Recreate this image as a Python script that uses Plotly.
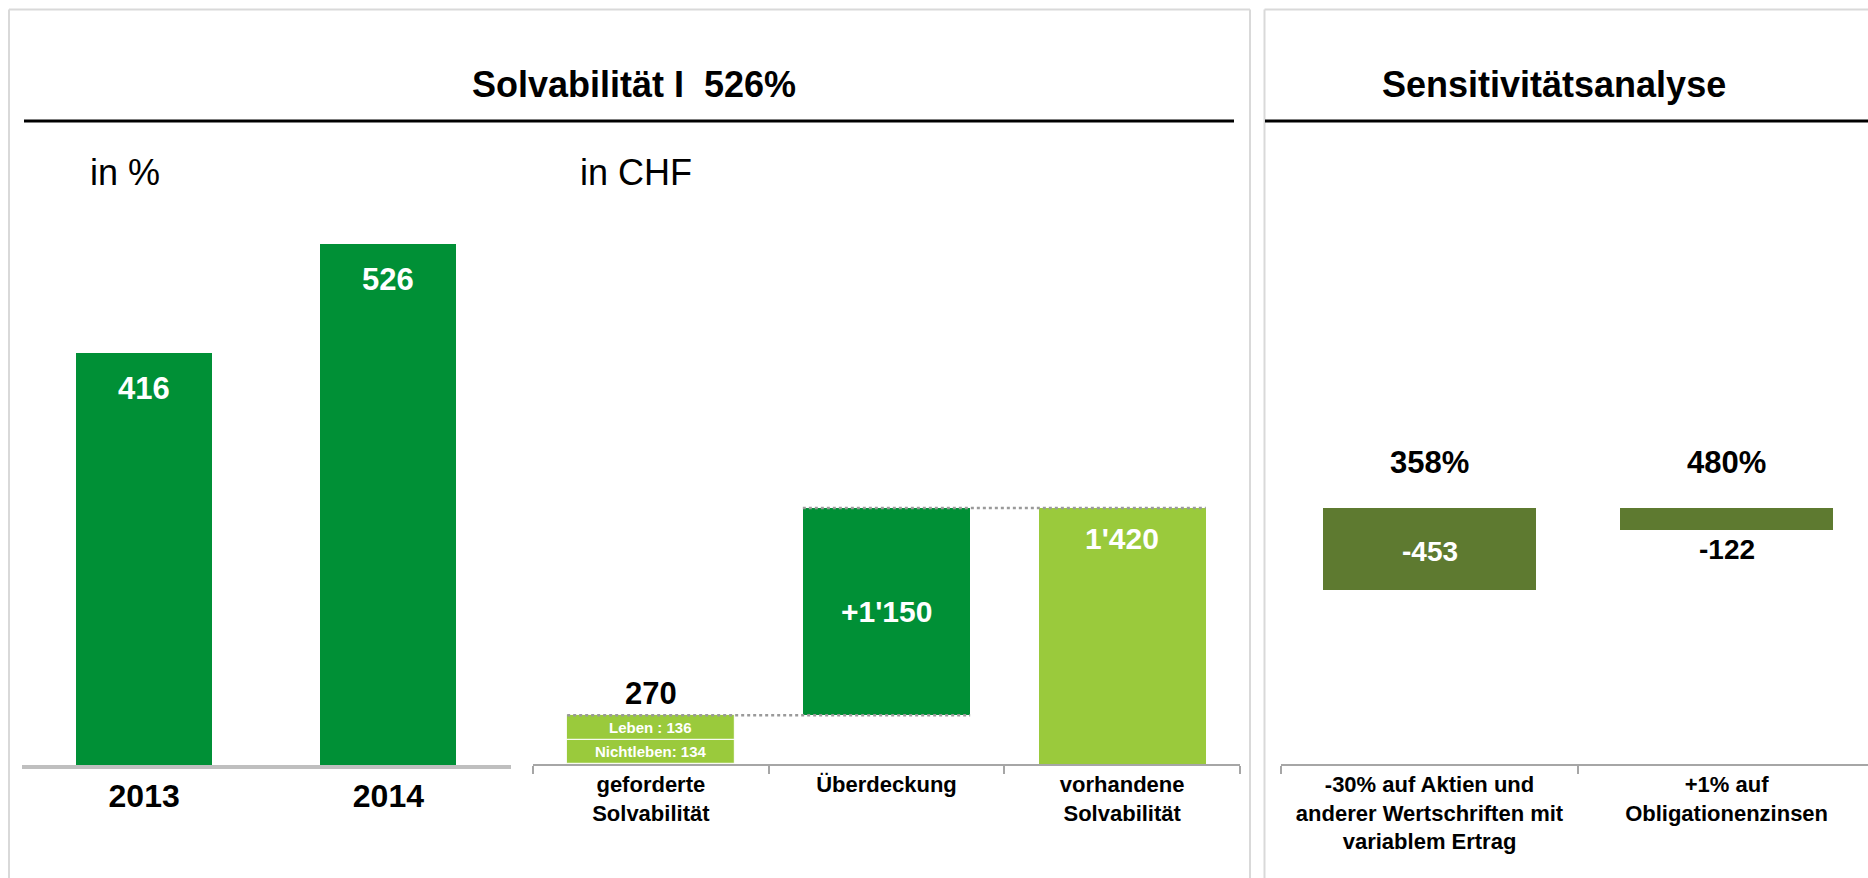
import plotly.graph_objects as go

# ---------------- data ----------------
years = ["2013", "2014"]
solvency_pct = [416, 526]

wf_categories = ["geforderte<br>Solvabilität", "Überdeckung", "vorhandene<br>Solvabilität"]
req_nichtleben = 134
req_leben = 136
surplus = 1150
available = 1420

sens_categories = ["-30% auf Aktien und<br>anderer Wertschriften mit<br>variablem Ertrag",
                   "+1% auf<br>Obligationenzinsen"]
sens_delta = [-453, -122]
sens_ratio = [358, 480]

# ---------------- style ----------------
W, H = 1868, 878
FONT = "Liberation Sans, Arial, sans-serif"
DARK_GREEN = "#009036"
LIGHT_GREEN = "#9ACA3C"
OLIVE = "#5E7A30"
AXIS_GRAY = "#A6A6A6"
BORDER_GRAY = "#D9D9D9"


def px(x):
    return x / W


def py(y):
    return 1 - y / H


def chf(v):
    return f"{v:,}".replace(",", "'")


required = req_nichtleben + req_leben

fig = go.Figure()

# Chart 1: solvency in %
fig.add_trace(go.Bar(x=years, y=solvency_pct, width=0.556, marker=dict(color=DARK_GREEN, line=dict(width=0)),
                     xaxis="x", yaxis="y", hoverinfo="x+y"))

# Chart 2: waterfall in CHF
seg_line = dict(width=1.2, color="rgba(255,255,255,0.85)")
fig.add_trace(go.Bar(x=[wf_categories[0]], y=[req_nichtleben], base=[0], width=0.71,
                     marker=dict(color=LIGHT_GREEN, line=seg_line), xaxis="x2", yaxis="y2"))
fig.add_trace(go.Bar(x=[wf_categories[0]], y=[req_leben], base=[req_nichtleben], width=0.71,
                     marker=dict(color=LIGHT_GREEN, line=seg_line), xaxis="x2", yaxis="y2"))
fig.add_trace(go.Bar(x=[wf_categories[1]], y=[surplus], base=[required], width=0.71,
                     marker=dict(color=DARK_GREEN, line=dict(width=0)), xaxis="x2", yaxis="y2"))
fig.add_trace(go.Bar(x=[wf_categories[2]], y=[available], base=[0], width=0.71,
                     marker=dict(color=LIGHT_GREEN, line=dict(width=0)), xaxis="x2", yaxis="y2"))

# Chart 3: sensitivity (drop from available capital)
fig.add_trace(go.Bar(x=sens_categories, y=sens_delta, base=[available] * len(sens_delta), width=0.717,
                     marker=dict(color=OLIVE, line=dict(width=0)), xaxis="x3", yaxis="y3"))

# ---------------- annotations ----------------
ann = []
title_font = dict(family=FONT, size=36, color="black", weight="bold")
ann.append(dict(x=px(634), y=py(84), xref="paper", yref="paper", text=f"Solvabilität I\u00a0 {solvency_pct[-1]}%",
                showarrow=False, font=title_font, xanchor="center", yanchor="middle"))
ann.append(dict(x=px(1554), y=py(84), xref="paper", yref="paper", text="Sensitivitätsanalyse",
                showarrow=False, font=title_font, xanchor="center", yanchor="middle"))
sub_font = dict(family=FONT, size=36, color="black")
ann.append(dict(x=px(88), y=py(172), xref="paper", yref="paper", text="in %", showarrow=False,
                font=sub_font, xanchor="left", yanchor="middle"))
ann.append(dict(x=px(578), y=py(172), xref="paper", yref="paper", text="in CHF", showarrow=False,
                font=sub_font, xanchor="left", yanchor="middle"))

white_big = dict(family=FONT, size=31, color="white", weight="bold")
black_big = dict(family=FONT, size=31, color="black", weight="bold")
for i, v in enumerate(solvency_pct):
    ann.append(dict(x=i, y=v, xref="x", yref="y", text=str(v), showarrow=False, font=white_big,
                    yshift=-35, yanchor="middle"))

ann.append(dict(x=0, y=required, xref="x2", yref="y2", text=chf(required), showarrow=False,
                font=black_big, yshift=22, yanchor="middle"))
small_white = dict(family=FONT, size=15, color="white", weight="bold")
ann.append(dict(x=0, y=req_nichtleben / 2, xref="x2", yref="y2",
                text=f"Nichtleben: {req_nichtleben}", showarrow=False, font=small_white, yanchor="middle"))
ann.append(dict(x=0, y=req_nichtleben + req_leben / 2, xref="x2", yref="y2",
                text=f"Leben : {req_leben}", showarrow=False, font=small_white, yanchor="middle"))
mid_white = dict(family=FONT, size=30, color="white", weight="bold")
ann.append(dict(x=1, y=required + surplus / 2, xref="x2", yref="y2", text="+" + chf(surplus),
                showarrow=False, font=mid_white, yanchor="middle"))
ann.append(dict(x=2, y=available, xref="x2", yref="y2", text=chf(available),
                showarrow=False, font=mid_white, yshift=-30, yanchor="middle"))

for i, (d, r) in enumerate(zip(sens_delta, sens_ratio)):
    ann.append(dict(x=i, y=available, xref="x3", yref="y3", text=f"{r}%", showarrow=False,
                    font=black_big, yshift=46, yanchor="middle"))
    if abs(d) > 200:
        ann.append(dict(x=i, y=available + d / 2, xref="x3", yref="y3", text=str(d), showarrow=False,
                        font=dict(family=FONT, size=28, color="white", weight="bold"), yanchor="middle",
                        yshift=-3))
    else:
        ann.append(dict(x=i, y=available + d, xref="x3", yref="y3", text=str(d), showarrow=False,
                        font=dict(family=FONT, size=28, color="black", weight="bold"), yshift=-20,
                        yanchor="middle"))

# ---------------- shapes ----------------
shapes = []
bline = dict(color=BORDER_GRAY, width=2)
for (x0, y0, x1, y1) in [(9, 9.5, 1250, 9.5), (9, 9.5, 9, 880), (1250, 9.5, 1250, 880),
                         (1264.5, 9.5, 1870, 9.5), (1264.5, 9.5, 1264.5, 880)]:
    shapes.append(dict(type="line", xref="paper", yref="paper", x0=px(x0), y0=py(y0), x1=px(x1), y1=py(y1),
                       line=bline, layer="below"))
for (x0, x1) in [(24, 1234), (1265, 1870)]:
    shapes.append(dict(type="line", xref="paper", yref="paper", x0=px(x0), y0=py(121), x1=px(x1), y1=py(121),
                       line=dict(color="black", width=3)))
# waterfall connectors
dot = dict(color="#9A9A9A", width=2.5, dash="dot")
shapes.append(dict(type="line", xref="x2", yref="y2", x0=-0.355, x1=1.355, y0=required, y1=required,
                   line=dot, layer="above"))
shapes.append(dict(type="line", xref="x2", yref="y2", x0=0.645, x1=2.355, y0=available, y1=available,
                   line=dot, layer="above"))

y_bottom1 = py(765)
y_bottom2 = py(764)
y_top = py(140)
k1 = 0.99
k2 = 256 / 1420

hidden_y = dict(visible=False, showgrid=False, zeroline=False, fixedrange=True)

fig.update_layout(
    width=W, height=H,
    margin=dict(l=0, r=0, t=0, b=0),
    paper_bgcolor="white", plot_bgcolor="rgba(0,0,0,0)",
    showlegend=False, barmode="overlay", bargap=0,
    font=dict(family=FONT, color="black"),
    xaxis=dict(domain=[px(22), px(510.5)], range=[-0.5, 1.5], type="category", showline=True,
               linecolor="#BFBFBF", linewidth=4, ticks="", showgrid=False, zeroline=False,
               tickfont=dict(family=FONT, size=32, color="black", weight="bold"), anchor="y"),
    yaxis=dict(domain=[y_bottom1, y_top], range=[0, (765 - 140) / k1], anchor="x", **hidden_y),
    xaxis2=dict(domain=[px(533), px(1240)], range=[-0.5, 2.5], type="category", showline=True,
                linecolor=AXIS_GRAY, linewidth=1.5, ticks="outside", tickson="boundaries", ticklen=8,
                tickcolor=AXIS_GRAY, tickwidth=1.5, showgrid=False, zeroline=False,
                tickfont=dict(family=FONT, size=22, color="black", weight="bold"), anchor="y2"),
    yaxis2=dict(domain=[y_bottom2, y_top], range=[0, (764 - 140) / k2], anchor="x2", **hidden_y),
    xaxis3=dict(domain=[px(1281), 1.0], range=[-0.5, 1.476], type="category", showline=True,
                linecolor=AXIS_GRAY, linewidth=1.5, ticks="outside", tickson="boundaries", ticklen=8,
                tickcolor=AXIS_GRAY, tickwidth=1.5, showgrid=False, zeroline=False,
                tickfont=dict(family=FONT, size=22, color="black", weight="bold"), anchor="y3"),
    yaxis3=dict(domain=[y_bottom2, y_top], range=[0, (764 - 140) / k2], anchor="x3", **hidden_y),
    annotations=ann,
    shapes=shapes,
)

fig.write_html("out.html", config={"displayModeBar": False},
               post_script="document.body.style.margin='0';document.body.style.overflow='hidden';")
